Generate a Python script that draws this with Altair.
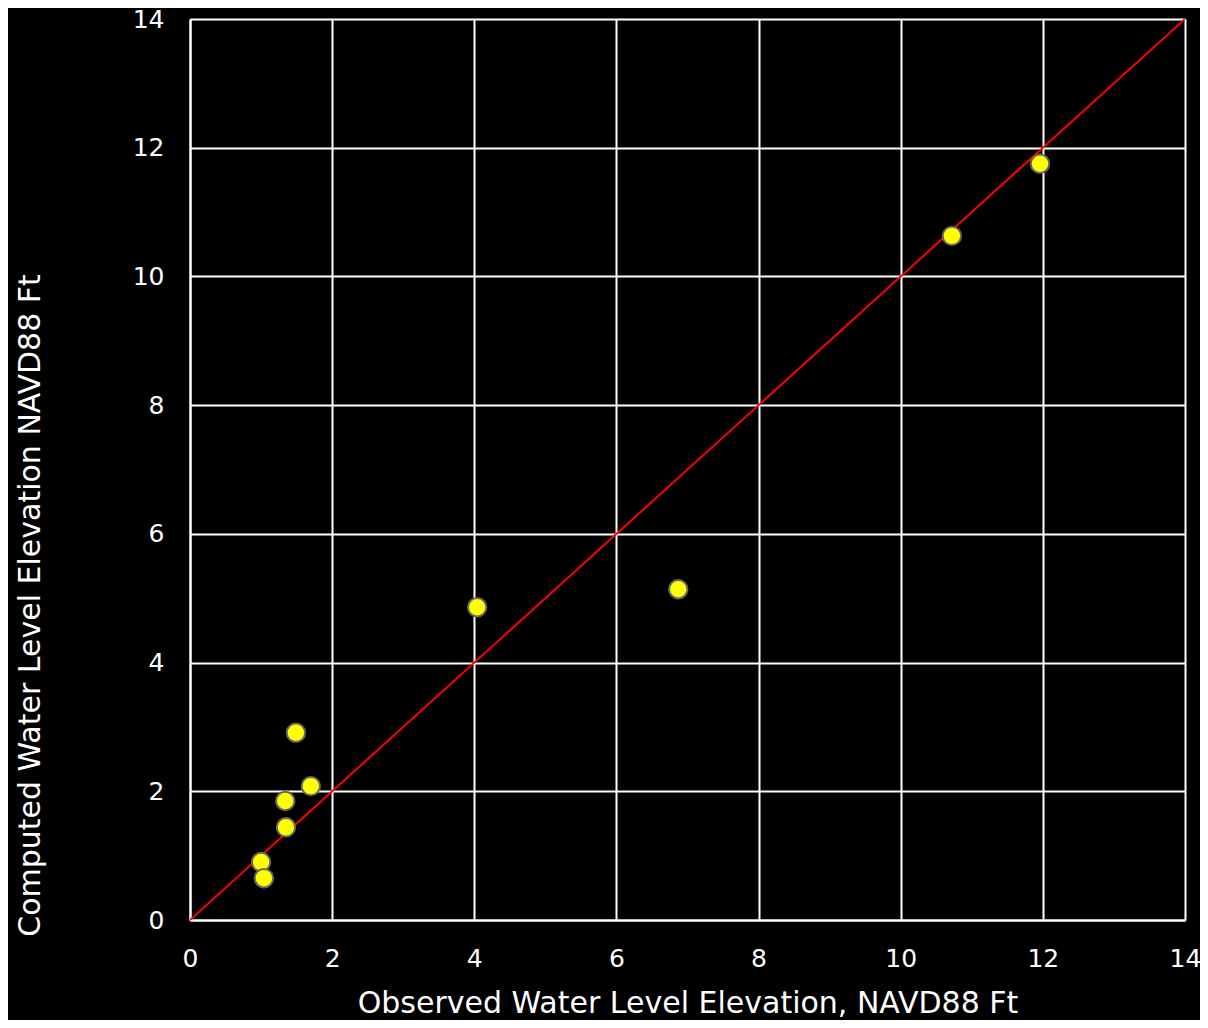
import altair as alt
import pandas as pd

observed = [11.96, 10.72, 6.87, 4.04, 1.49, 1.70, 1.34, 1.35, 1.00, 1.04]
computed = [11.75, 10.63, 5.14, 4.86, 2.91, 2.08, 1.85, 1.44, 0.90, 0.65]
line_x = [0, 14]
line_y = [0, 14]
ticks = [0, 2, 4, 6, 8, 10, 12, 14]

pts = pd.DataFrame({"obs": observed, "comp": computed})
ln = pd.DataFrame({"obs": line_x, "comp": line_y})

FONT = "DejaVu Sans"

common = dict(values=ticks, format="d", grid=True, gridColor="white", gridWidth=2,
              domainColor="white", domainWidth=2, ticks=False, labelFlush=False,
              labelColor="white", labelFontSize=25, labelFont=FONT,
              labelFontWeight="normal", labelPadding=26,
              titleColor="white", titleFontSize=30, titleFont=FONT,
              titleFontWeight="normal")

xax = alt.X("obs:Q", scale=alt.Scale(domain=[0, 14], nice=False),
            axis=alt.Axis(title="Observed Water Level Elevation, NAVD88 Ft",
                          titlePadding=17, **common))
yax = alt.Y("comp:Q", scale=alt.Scale(domain=[0, 14], nice=False),
            axis=alt.Axis(title="Computed Water Level Elevation NAVD88 Ft",
                          titleAngle=-90, titleX=-160, titleY=586,
                          titleAlign="center", titleBaseline="middle", **common))

line = alt.Chart(ln).mark_line(color="#ff0000", strokeWidth=2, clip=True).encode(x=xax, y=yax)
points = alt.Chart(pts).mark_circle(size=340, color="#ffff00", opacity=1,
                                     stroke="#666666", strokeWidth=2).encode(x="obs:Q", y="comp:Q")

chart = (line + points).properties(
    width=995, height=901,
    background="black",
    autosize=alt.AutoSizeParams(type="none"),
    padding={"left": 182, "top": 11, "right": 15, "bottom": 100},
).configure_view(stroke=None)

chart.save("out.html", embed_options={"renderer": "svg", "actions": False})
